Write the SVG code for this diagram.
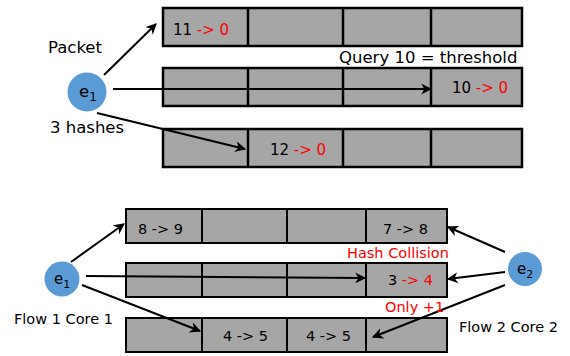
<svg xmlns="http://www.w3.org/2000/svg" width="570" height="356" viewBox="0 0 570 356">
<defs>
<marker id="ah" viewBox="0 0 10 10" refX="9" refY="5" markerWidth="5.5" markerHeight="5.5" orient="auto" markerUnits="strokeWidth">
<path d="M0,0 L10,5 L0,10 L3,5 Z" fill="#000"/>
</marker>
<style>
.cell{fill:#A6A6A6;stroke:#000;stroke-width:2.5}
.cellb{fill:#A6A6A6;stroke:#000;stroke-width:2}
.div{stroke:#000;stroke-width:2.5}
.divb{stroke:#000;stroke-width:2}
.node{fill:#5B9BD5}
.t{font-family:"DejaVu Sans",sans-serif;font-size:15px;fill:#000}
.big{font-size:16.5px}
.sm{font-size:14.5px}
.r{fill:#FF0000}
.c{stroke:#000;stroke-width:2;fill:none;marker-end:url(#ah)}
</style>
</defs>
<rect width="570" height="356" fill="#fff"/>
<g id="row1">
<rect class="cell" x="163" y="8" width="359" height="38"/>
<line class="div" x1="248" y1="8" x2="248" y2="46"/>
<line class="div" x1="343" y1="8" x2="343" y2="46"/>
<line class="div" x1="431" y1="8" x2="431" y2="46"/>
<text class="t" x="173" y="35">11 <tspan class="r">-&gt; 0</tspan></text>
</g>
<g id="row2">
<rect class="cell" x="163" y="68" width="359" height="38"/>
<line class="div" x1="248" y1="68" x2="248" y2="106"/>
<line class="div" x1="343" y1="68" x2="343" y2="106"/>
<line class="div" x1="431" y1="68" x2="431" y2="106"/>
<text class="t" x="452" y="93">10 <tspan class="r">-&gt; 0</tspan></text>
</g>
<g id="row3">
<rect class="cell" x="163" y="129" width="359" height="38"/>
<line class="div" x1="248" y1="129" x2="248" y2="167"/>
<line class="div" x1="343" y1="129" x2="343" y2="167"/>
<line class="div" x1="431" y1="129" x2="431" y2="167"/>
<text class="t" x="270" y="155">12 <tspan class="r">-&gt; 0</tspan></text>
</g>
<g id="rowB1">
<rect class="cellb" x="126" y="209" width="321" height="34"/>
<line class="divb" x1="202" y1="209" x2="202" y2="243"/>
<line class="divb" x1="287" y1="209" x2="287" y2="243"/>
<line class="divb" x1="366" y1="209" x2="366" y2="243"/>
<text class="t sm" x="138" y="234">8 -&gt; 9</text>
<text class="t sm" x="383" y="234">7 -&gt; 8</text>
</g>
<g id="rowB2">
<rect class="cellb" x="126" y="263" width="321" height="34"/>
<line class="divb" x1="202" y1="263" x2="202" y2="297"/>
<line class="divb" x1="287" y1="263" x2="287" y2="297"/>
<line class="divb" x1="366" y1="263" x2="366" y2="297"/>
<text class="t sm" x="388" y="285">3 <tspan class="r">-&gt; 4</tspan></text>
</g>
<g id="rowB3">
<rect class="cellb" x="126" y="318" width="321" height="34"/>
<line class="divb" x1="202" y1="318" x2="202" y2="352"/>
<line class="divb" x1="287" y1="318" x2="287" y2="352"/>
<line class="divb" x1="366" y1="318" x2="366" y2="352"/>
<text class="t sm" x="223" y="341">4 -&gt; 5</text>
<text class="t sm" x="306" y="341">4 -&gt; 5</text>
</g>
<g id="connectors">
<line class="c" x1="104" y1="75" x2="156" y2="24"/>
<line class="c" x1="113" y1="89" x2="431" y2="89"/>
<line class="c" x1="97" y1="113" x2="245" y2="149"/>
<line class="c" x1="71" y1="262" x2="124" y2="224"/>
<line class="c" x1="86" y1="276" x2="365" y2="278"/>
<line class="c" x1="82" y1="285" x2="200" y2="331"/>
<line class="c" x1="505" y1="252" x2="448" y2="227"/>
<line class="c" x1="505" y1="272" x2="448" y2="279"/>
<line class="c" x1="505" y1="285" x2="373" y2="337"/>
</g>
<g id="e1top">
<circle class="node" cx="87" cy="92" r="19.5"/>
<text class="t big" x="79" y="97">e<tspan font-size="12" dy="4">1</tspan></text>
</g>
<g id="e1bottom">
<circle class="node" cx="62" cy="279" r="17.5"/>
<text class="t" x="54" y="284">e<tspan font-size="11" dy="4">1</tspan></text>
</g>
<g id="e2">
<circle class="node" cx="525" cy="269" r="17"/>
<text class="t" x="517" y="274">e<tspan font-size="11" dy="4">2</tspan></text>
</g>
<g id="labels">
<text class="t big" x="48" y="53">Packet</text>
<text class="t big" x="50" y="133">3 hashes</text>
<text class="t big" x="339" y="63">Query 10 = threshold</text>
<text class="t sm r" x="347" y="258">Hash Collision</text>
<text class="t sm r" x="385" y="312">Only +1</text>
<text class="t sm" x="14" y="324">Flow 1 Core 1</text>
<text class="t sm" x="459" y="332">Flow 2 Core 2</text>
</g>
</svg>
